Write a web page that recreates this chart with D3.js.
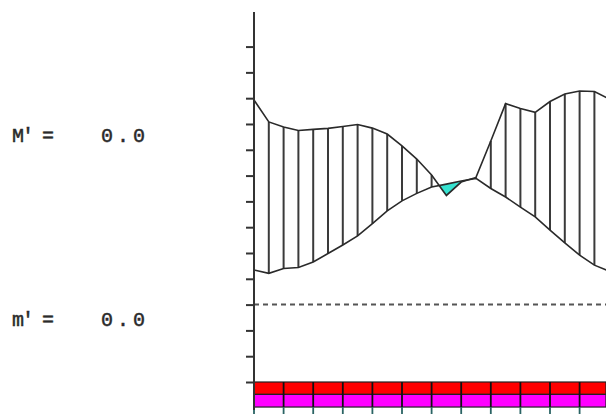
<!DOCTYPE html>
<html>
<head>
<meta charset="utf-8">
<script src="https://cdn.jsdelivr.net/npm/d3@7"></script>
<style>
  html, body { margin: 0; padding: 0; background: #fff; }
  svg { display: block; }
  text { font-family: "Liberation Mono", "DejaVu Sans Mono", monospace; fill: #2a2a2a; stroke: #2a2a2a; stroke-width: 0.5; }
</style>
</head>
<body>
<svg id="chart" width="606" height="414"></svg>
<script>
// ---- data ----
const sampleIndex = [0,1,2,3,4,5,6,7,8,9,10,11,12,13,14,15,16,17,18,19,20,21,22,23,24];
const upperSeries = [10.93,10.08,9.88,9.75,9.79,9.83,9.90,9.98,9.84,9.61,9.15,8.64,8.02,7.23,7.75,7.93,9.34,10.79,10.60,10.45,10.87,11.16,11.28,11.26,10.97];
const lowerSeries = [4.34,4.21,4.40,4.44,4.65,4.98,5.31,5.66,6.14,6.63,7.02,7.31,7.56,7.67,7.79,7.89,7.50,7.17,6.78,6.40,5.89,5.39,4.92,4.53,4.30];
const yTickValues = [0,1,2,3,4,5,6,7,8,9,10,11,12,13];
const refLevel = 3;
const cellEdges = [0,2,4,6,8,10,12,14,16,18,20,22,24];
const bandRows = ["red", "magenta"];
const bandLevels = [0, -0.48, -0.97];
const labelNames = ["M' =", "m' ="];
const labelValues = ["0.0", "0.0"];
const labelLevels = [9.3, 2.17];

// ---- scales ----
const svg = d3.select("#chart");
const x = d3.scaleLinear().domain([0, 24]).range([254, 609.2]);
const y = d3.scaleLinear().domain([-1.085, 14.34]).range([410, 12]);
const bandColor = d3.scaleOrdinal().domain(bandRows).range(["#ff0000", "#ff00ff"]);

const pts = sampleIndex.map((k, i) => ({ k, up: upperSeries[i], lo: lowerSeries[i] }));

// ---- labels ----
labelNames.forEach((t, i) => {
  svg.append("text").attr("x", 12).attr("y", y(labelLevels[i]))
    .attr("font-size", 20).attr("textLength", 42).attr("lengthAdjust", "spacing").text(t);
  svg.append("text").attr("x", 101).attr("y", y(labelLevels[i]))
    .attr("font-size", 20).attr("textLength", 44).attr("lengthAdjust", "spacing").text(labelValues[i]);
});

// ---- cyan crossing area (where upper < lower) ----
const defs = svg.append("defs");
defs.append("clipPath").attr("id", "belowUpper")
  .append("path")
  .attr("d", d3.area().x(d => x(d.k)).y0(0).y1(d => y(d.up))(pts));
svg.append("path")
  .attr("clip-path", "url(#belowUpper)")
  .attr("fill", "#36e3d0")
  .attr("d", d3.area().x(d => x(d.k)).y0(d => y(d.lo)).y1(414)(pts));

// ---- hatch lines ----
svg.append("g").selectAll("line")
  .data(pts.filter(d => d.up > d.lo))
  .join("line")
  .attr("x1", d => x(d.k)).attr("x2", d => x(d.k))
  .attr("y1", d => y(d.up)).attr("y2", d => y(d.lo))
  .attr("stroke", "#3a3a3a").attr("stroke-width", 2);

// ---- curves ----
svg.append("path").attr("fill", "none").attr("stroke", "#2a2a2a").attr("stroke-width", 1.6)
  .attr("d", d3.line().x(d => x(d.k)).y(d => y(d.up))(pts));
svg.append("path").attr("fill", "none").attr("stroke", "#2a2a2a").attr("stroke-width", 1.6)
  .attr("d", d3.line().x(d => x(d.k)).y(d => y(d.lo))(pts));

// ---- reference dashed line ----
svg.append("line")
  .attr("x1", x(0)).attr("x2", 606)
  .attr("y1", y(refLevel)).attr("y2", y(refLevel))
  .attr("stroke", "#555").attr("stroke-width", 2).attr("stroke-dasharray", "5,4");

// ---- bottom bands ----
bandRows.forEach((r, i) => {
  svg.append("rect")
    .attr("x", x(0)).attr("y", y(bandLevels[i]))
    .attr("width", 606 - x(0)).attr("height", y(bandLevels[i + 1]) - y(bandLevels[i]))
    .attr("fill", bandColor(r)).attr("stroke", "#222").attr("stroke-width", 1.2);
});
svg.append("g").selectAll("line")
  .data(cellEdges)
  .join("line")
  .attr("x1", d => x(d)).attr("x2", d => x(d))
  .attr("y1", y(bandLevels[0])).attr("y2", y(bandLevels[2]))
  .attr("stroke", "#111").attr("stroke-width", 1.8);
svg.append("g").selectAll("line")
  .data(cellEdges)
  .join("line")
  .attr("x1", d => x(d)).attr("x2", d => x(d))
  .attr("y1", y(bandLevels[2])).attr("y2", 414)
  .attr("stroke", "#2a6464").attr("stroke-width", 1.8);

// ---- axis ----
const axis = d3.axisLeft(y).tickValues(yTickValues).tickSize(8).tickFormat("");
const ag = svg.append("g").attr("transform", `translate(${x(0)},0)`).call(axis);
ag.select(".domain").attr("stroke", "#333").attr("stroke-width", 2).attr("d", `M0,${y(14.34)}V${y(-1.085)}`);
ag.selectAll(".tick line").attr("stroke", "#333").attr("stroke-width", 2);
</script>
</body>
</html>
